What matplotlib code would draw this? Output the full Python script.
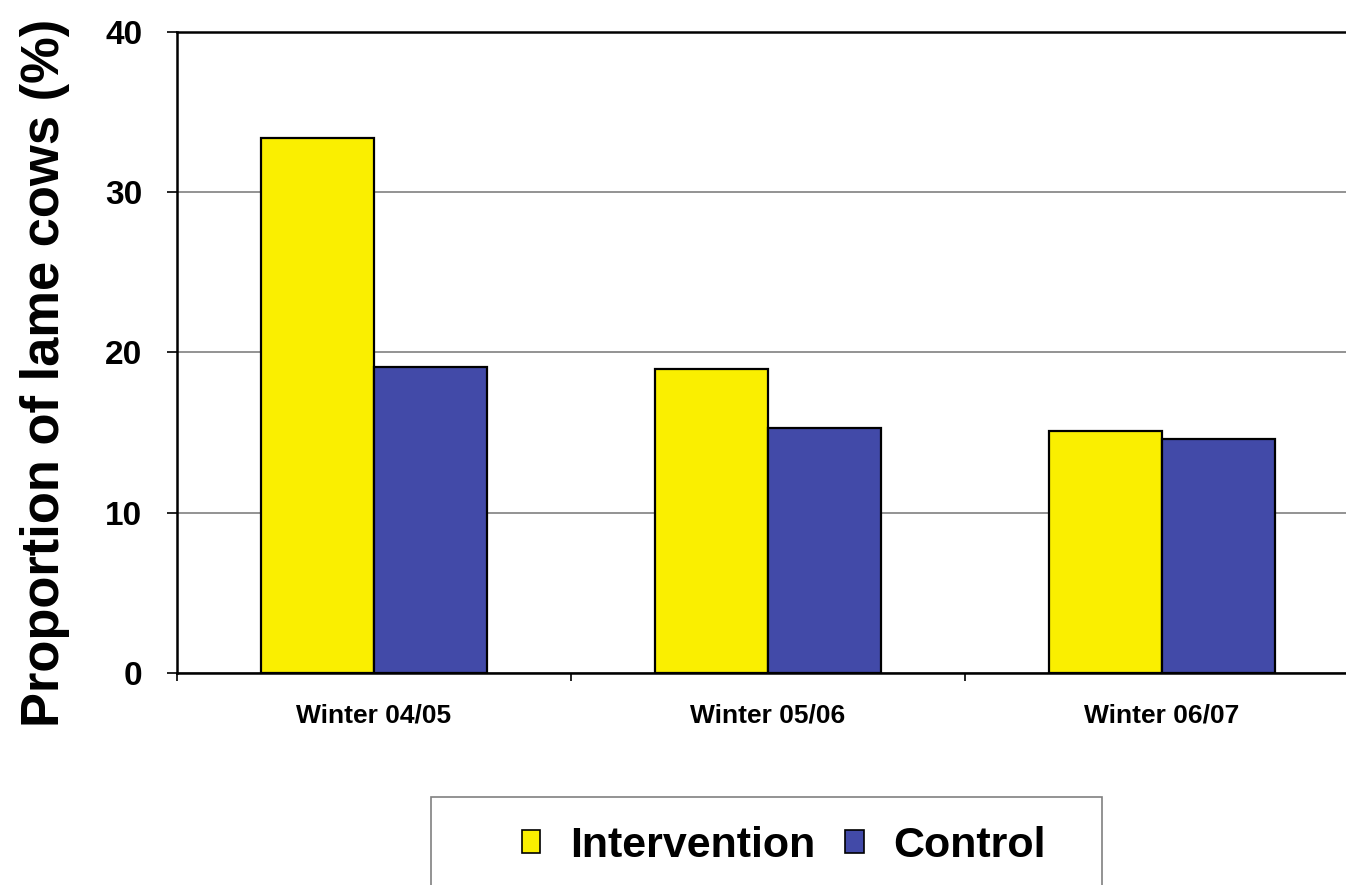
import numpy as np
import matplotlib
matplotlib.use('Agg')
import matplotlib.pyplot as plt
from matplotlib.patches import Patch, Rectangle

plt.rcParams['font.family'] = ['Liberation Sans', 'DejaVu Sans']
plt.rcParams['font.weight'] = 'bold'

winters = ['Winter 04/05', 'Winter 05/06', 'Winter 06/07']
intervention = [33.4, 19.0, 15.1]
control = [19.1, 15.3, 14.6]
yticks = [0, 10, 20, 30, 40]

yellow = '#FAEF00'
blue = '#424AA8'

fig = plt.figure(figsize=(13.46, 8.85), dpi=100)
ax = fig.add_axes([177 / 1346, 212 / 885, 1182 / 1346, 641 / 885])

x = np.arange(len(winters))
w = 0.287
ax.bar(x - w / 2, intervention, w, color=yellow, edgecolor='black', linewidth=1.6, zorder=3)
ax.bar(x + w / 2, control, w, color=blue, edgecolor='black', linewidth=1.6, zorder=3)

ax.set_xlim(-0.5, 2.5)
ax.set_ylim(0, 40)
ax.set_yticks(yticks)
ax.yaxis.grid(True, color='#808080', linewidth=1.2, zorder=0)
ax.tick_params(axis='y', direction='out', length=7, width=1.2, pad=18, labelsize=24)

ax.set_xticks(x)
ax.set_xticklabels(winters)
ax.set_xticks(np.arange(-0.5, 2.6, 1.0), minor=True)
ax.tick_params(axis='x', which='major', length=0, pad=22, labelsize=19)
ax.tick_params(axis='x', which='minor', direction='out', length=6, width=1.2)
for lbl in ax.get_xticklabels():
    lbl.set_x(lbl.get_position()[0])

for s in ['left', 'bottom', 'top']:
    ax.spines[s].set_linewidth(1.8)
    ax.spines[s].set_color('black')
ax.spines['right'].set_visible(False)

ax.set_ylabel('Proportion of lame cows (%)', fontsize=37.8, fontweight='bold', va='center')
ax.yaxis.set_label_coords(-0.112, 0.468)

# legend frame (runs off the bottom of the image)
fig.patches.append(Rectangle((431 / 1346, -0.05), 671 / 1346, (885 - 797) / 885 + 0.05,
                             transform=fig.transFigure, facecolor='white',
                             edgecolor='#808080', linewidth=1.2))
handles = [Patch(facecolor=yellow, edgecolor='black', linewidth=1.2, label='Intervention'),
           Patch(facecolor=blue, edgecolor='black', linewidth=1.2, label='Control')]
fig.legend(handles=handles, loc='center', bbox_to_anchor=(784 / 1346, 1 - 846 / 885),
           ncol=2, frameon=False, fontsize=31, handlelength=0.42, handleheight=0.42,
           handletextpad=0.7, columnspacing=0.7, borderaxespad=0)

fig.savefig('out.png', dpi=100)
